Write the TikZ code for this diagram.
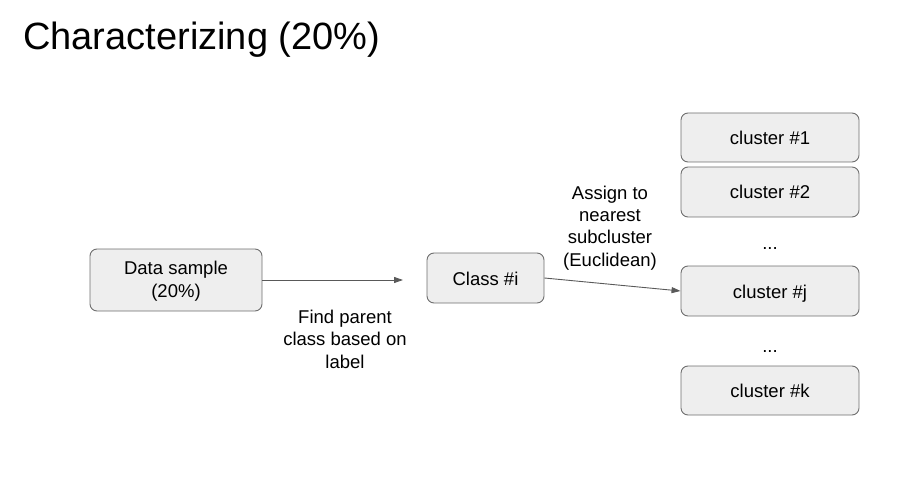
\documentclass[tikz,border=0pt]{standalone}
\usepackage{fontspec}
\setmainfont{Liberation Sans}
\usetikzlibrary{arrows.meta}
\definecolor{boxfill}{HTML}{EEEEEE}
\definecolor{boxline}{HTML}{6E6E6E}
\definecolor{arrowcol}{HTML}{595959}
\begin{document}
\begin{tikzpicture}[x=1pt,y=-1pt,
  box/.style={draw=boxline,fill=boxfill,rounded corners=7pt,line width=0.9pt,inner sep=0pt,align=center,
    text height=14pt,text depth=0pt,font=\fontsize{18.5}{22.4}\selectfont},
  lbl/.style={align=center,font=\fontsize{18.5}{22.4}\selectfont,inner sep=0pt},
  conn/.style={draw=arrowcol,line width=0.9pt,-{Triangle[length=9pt,width=6pt]}}]
\useasboundingbox (0,0) rectangle (917,478);
\node[anchor=base west,inner sep=0pt,font=\fontsize{38}{44}\selectfont] (title) at (23,50) {Characterizing (20\%)};
\node[box,minimum width=172pt,minimum height=62pt,text height=35.4pt,text depth=1pt] (data) at (176,280) {Data sample\\(20\%)};
\node[box,minimum width=117pt,minimum height=50pt] (cls) at (485.5,278) {Class \#i};
\node[box,minimum width=178pt,minimum height=49pt] (c1) at (770,137.5) {cluster \#1};
\node[box,minimum width=178pt,minimum height=50pt] (c2) at (770,192) {cluster \#2};
\node[box,minimum width=178pt,minimum height=50pt] (cj) at (770,291) {cluster \#j};
\node[box,minimum width=178pt,minimum height=49pt] (ck) at (770,390.5) {cluster \#k};
\node[lbl,anchor=base] (d1) at (770,249) {...};
\node[lbl,anchor=base] (d2) at (770,352) {...};
\coordinate (a1end) at (403,280);
\draw[conn] (data.east) -- (a1end);
\draw[conn] (cls.east) -- (cj.west);
\node[lbl] (l1) at (345,339) {Find parent\\class based on\\label};
\node[lbl] (l2) at (610,228) {Assign to\\nearest\\subcluster\\(Euclidean)};
\end{tikzpicture}
\end{document}
